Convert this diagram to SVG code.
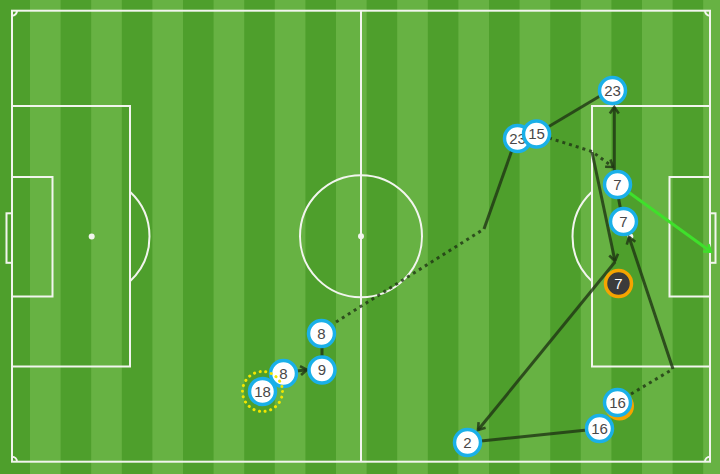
<svg xmlns="http://www.w3.org/2000/svg" width="720" height="474" viewBox="0 0 720 474">
<defs>
<pattern id="stripes" patternUnits="userSpaceOnUse" x="-0.6" y="0" width="61.2" height="474">
<rect x="0" y="0" width="30.6" height="474" fill="#4e9f2c"/>
<rect x="30.6" y="0" width="30.6" height="474" fill="#67b243"/>
</pattern>
<marker id="arr" markerUnits="userSpaceOnUse" markerWidth="12" markerHeight="12" viewBox="0 0 12 12" refX="10" refY="6" orient="auto">
<path d="M3.5,1.5 L10,6 L3.5,10.5" fill="none" stroke="#1f3514" stroke-opacity="0.8" stroke-width="2.6"/>
</marker>
<marker id="arrG" markerUnits="userSpaceOnUse" markerWidth="12" markerHeight="12" viewBox="0 0 12 12" refX="10" refY="6" orient="auto">
<path d="M3.5,1.5 L10,6 L3.5,10.5" fill="none" stroke="#3fe02b" stroke-width="2.6"/>
</marker>
</defs>
<style>
.ln{fill:none;stroke:#f2f5ee;stroke-width:2}
.spot{fill:#f2f5ee}
.pass{fill:none;stroke:#1f3514;stroke-opacity:0.8;stroke-width:3}
.carry{fill:none;stroke:#1f3514;stroke-opacity:0.8;stroke-width:3;stroke-dasharray:3 4}
.shot{fill:none;stroke:#3fe02b;stroke-width:3}
.node circle{fill:#ffffff;stroke:#1ab0e8;stroke-width:3.5}
.node text{font-family:"Liberation Sans",Arial,sans-serif;font-size:15px;fill:#484848;text-anchor:middle}
.node.scorer circle{fill:#3b3b3b;stroke:#f5a400}
.node.scorer text{fill:#ffffff}
</style>

<g id="pitch">
<rect x="0" y="0" width="720" height="474" fill="url(#stripes)"/>
<rect class="ln" x="12" y="10.7" width="698" height="451"/>
<line class="ln" x1="361" y1="10.7" x2="361" y2="461.7"/>
<circle class="ln" cx="361" cy="236.2" r="61"/>
<circle class="spot" cx="361" cy="236.2" r="3"/>
<rect class="ln" x="12" y="106" width="118" height="260.5"/>
<rect class="ln" x="12" y="177" width="40.5" height="119.5"/>
<rect class="ln" x="6.5" y="213.3" width="5.5" height="49.5"/>
<circle class="spot" cx="91.7" cy="236.5" r="3"/>
<path class="ln" d="M130,191.8 A61,61 0 0 1 130,281.2"/>
<rect class="ln" x="592" y="106" width="118" height="260.5"/>
<rect class="ln" x="669.5" y="177" width="40.5" height="119.5"/>
<rect class="ln" x="710" y="213.3" width="5.5" height="49.5"/>
<circle class="spot" cx="630.3" cy="236.5" r="3"/>
<path class="ln" d="M592,191.8 A61,61 0 0 0 592,281.2"/>
<path class="ln" d="M12,15.7 A5,5 0 0 0 17,10.7"/>
<path class="ln" d="M705,10.7 A5,5 0 0 0 710,15.7"/>
<path class="ln" d="M12,456.7 A5,5 0 0 1 17,461.7"/>
<path class="ln" d="M705,461.7 A5,5 0 0 1 710,456.7"/>
</g>

<g id="connectors">
<polyline class="carry" points="336,322 484,229"/>
<line class="pass" x1="484" y1="229" x2="512" y2="150"/>
<line class="pass" x1="322" y1="347" x2="322" y2="357"/>
<line class="pass" x1="297" y1="371" x2="307" y2="369.8" marker-end="url(#arr)"/>
<line class="pass" x1="548" y1="127" x2="600" y2="96"/>
<polyline class="carry" points="549,138 592,151.5 613,167" marker-end="url(#arr)"/>
<line class="pass" x1="614.3" y1="171" x2="614.3" y2="107" marker-end="url(#arr)"/>
<line class="pass" x1="592" y1="152" x2="615" y2="261" marker-end="url(#arr)"/>
<line class="pass" x1="615" y1="262" x2="478" y2="430" marker-end="url(#arr)"/>
<line class="pass" x1="481" y1="441" x2="587" y2="430"/>
<polyline class="carry" points="631,394 673,369"/>
<line class="pass" x1="673" y1="369" x2="629" y2="237" marker-end="url(#arr)"/>
<line class="pass" x1="618.5" y1="198" x2="620.5" y2="209"/>
<line class="shot" x1="629" y1="192.5" x2="711" y2="251.7" marker-end="url(#arrG)"/>
</g>

<g id="n-8a" class="node"><circle cx="321.5" cy="333.5" r="13"/><text x="321.5" y="338.8">8</text></g>
<g id="n-9" class="node"><circle cx="322" cy="370" r="13"/><text x="322" y="375.3">9</text></g>
<g id="n-8b" class="node"><circle cx="283.5" cy="373.5" r="13"/><text x="283.5" y="378.8">8</text></g>
<g id="n-18" class="node">
<circle cx="262.5" cy="391.5" r="20" style="fill:none;stroke:#f2e600;stroke-width:3;stroke-dasharray:0.1 5.6;stroke-linecap:round"/>
<circle cx="262.5" cy="391.5" r="13"/><text x="262.5" y="396.8">18</text></g>
<g id="n-23b" class="node"><circle cx="517.5" cy="138.5" r="13"/><text x="517.5" y="143.8">23</text></g>
<g id="n-15" class="node"><circle cx="536.5" cy="134" r="13"/><text x="536.5" y="139.3">15</text></g>
<g id="n-23a" class="node"><circle cx="612.5" cy="90.5" r="13"/><text x="612.5" y="95.8">23</text></g>
<g id="n-7a" class="node"><circle cx="617.5" cy="184.5" r="13"/><text x="617.5" y="189.8">7</text></g>
<g id="n-7b" class="node"><circle cx="623.5" cy="221.5" r="13"/><text x="623.5" y="226.8">7</text></g>
<g id="n-7c" class="node scorer"><circle cx="618.5" cy="283.5" r="13"/><text x="618.5" y="288.8">7</text></g>
<g id="n-16a" class="node">
<circle cx="619.5" cy="406" r="14.5" style="fill:#f5a400;stroke:none"/>
<circle cx="617.5" cy="402.5" r="13"/><text x="617.5" y="407.8">16</text></g>
<g id="n-16b" class="node"><circle cx="599.5" cy="428.5" r="13"/><text x="599.5" y="433.8">16</text></g>
<g id="n-2" class="node"><circle cx="467.5" cy="442.5" r="13"/><text x="467.5" y="447.8">2</text></g>
</svg>
